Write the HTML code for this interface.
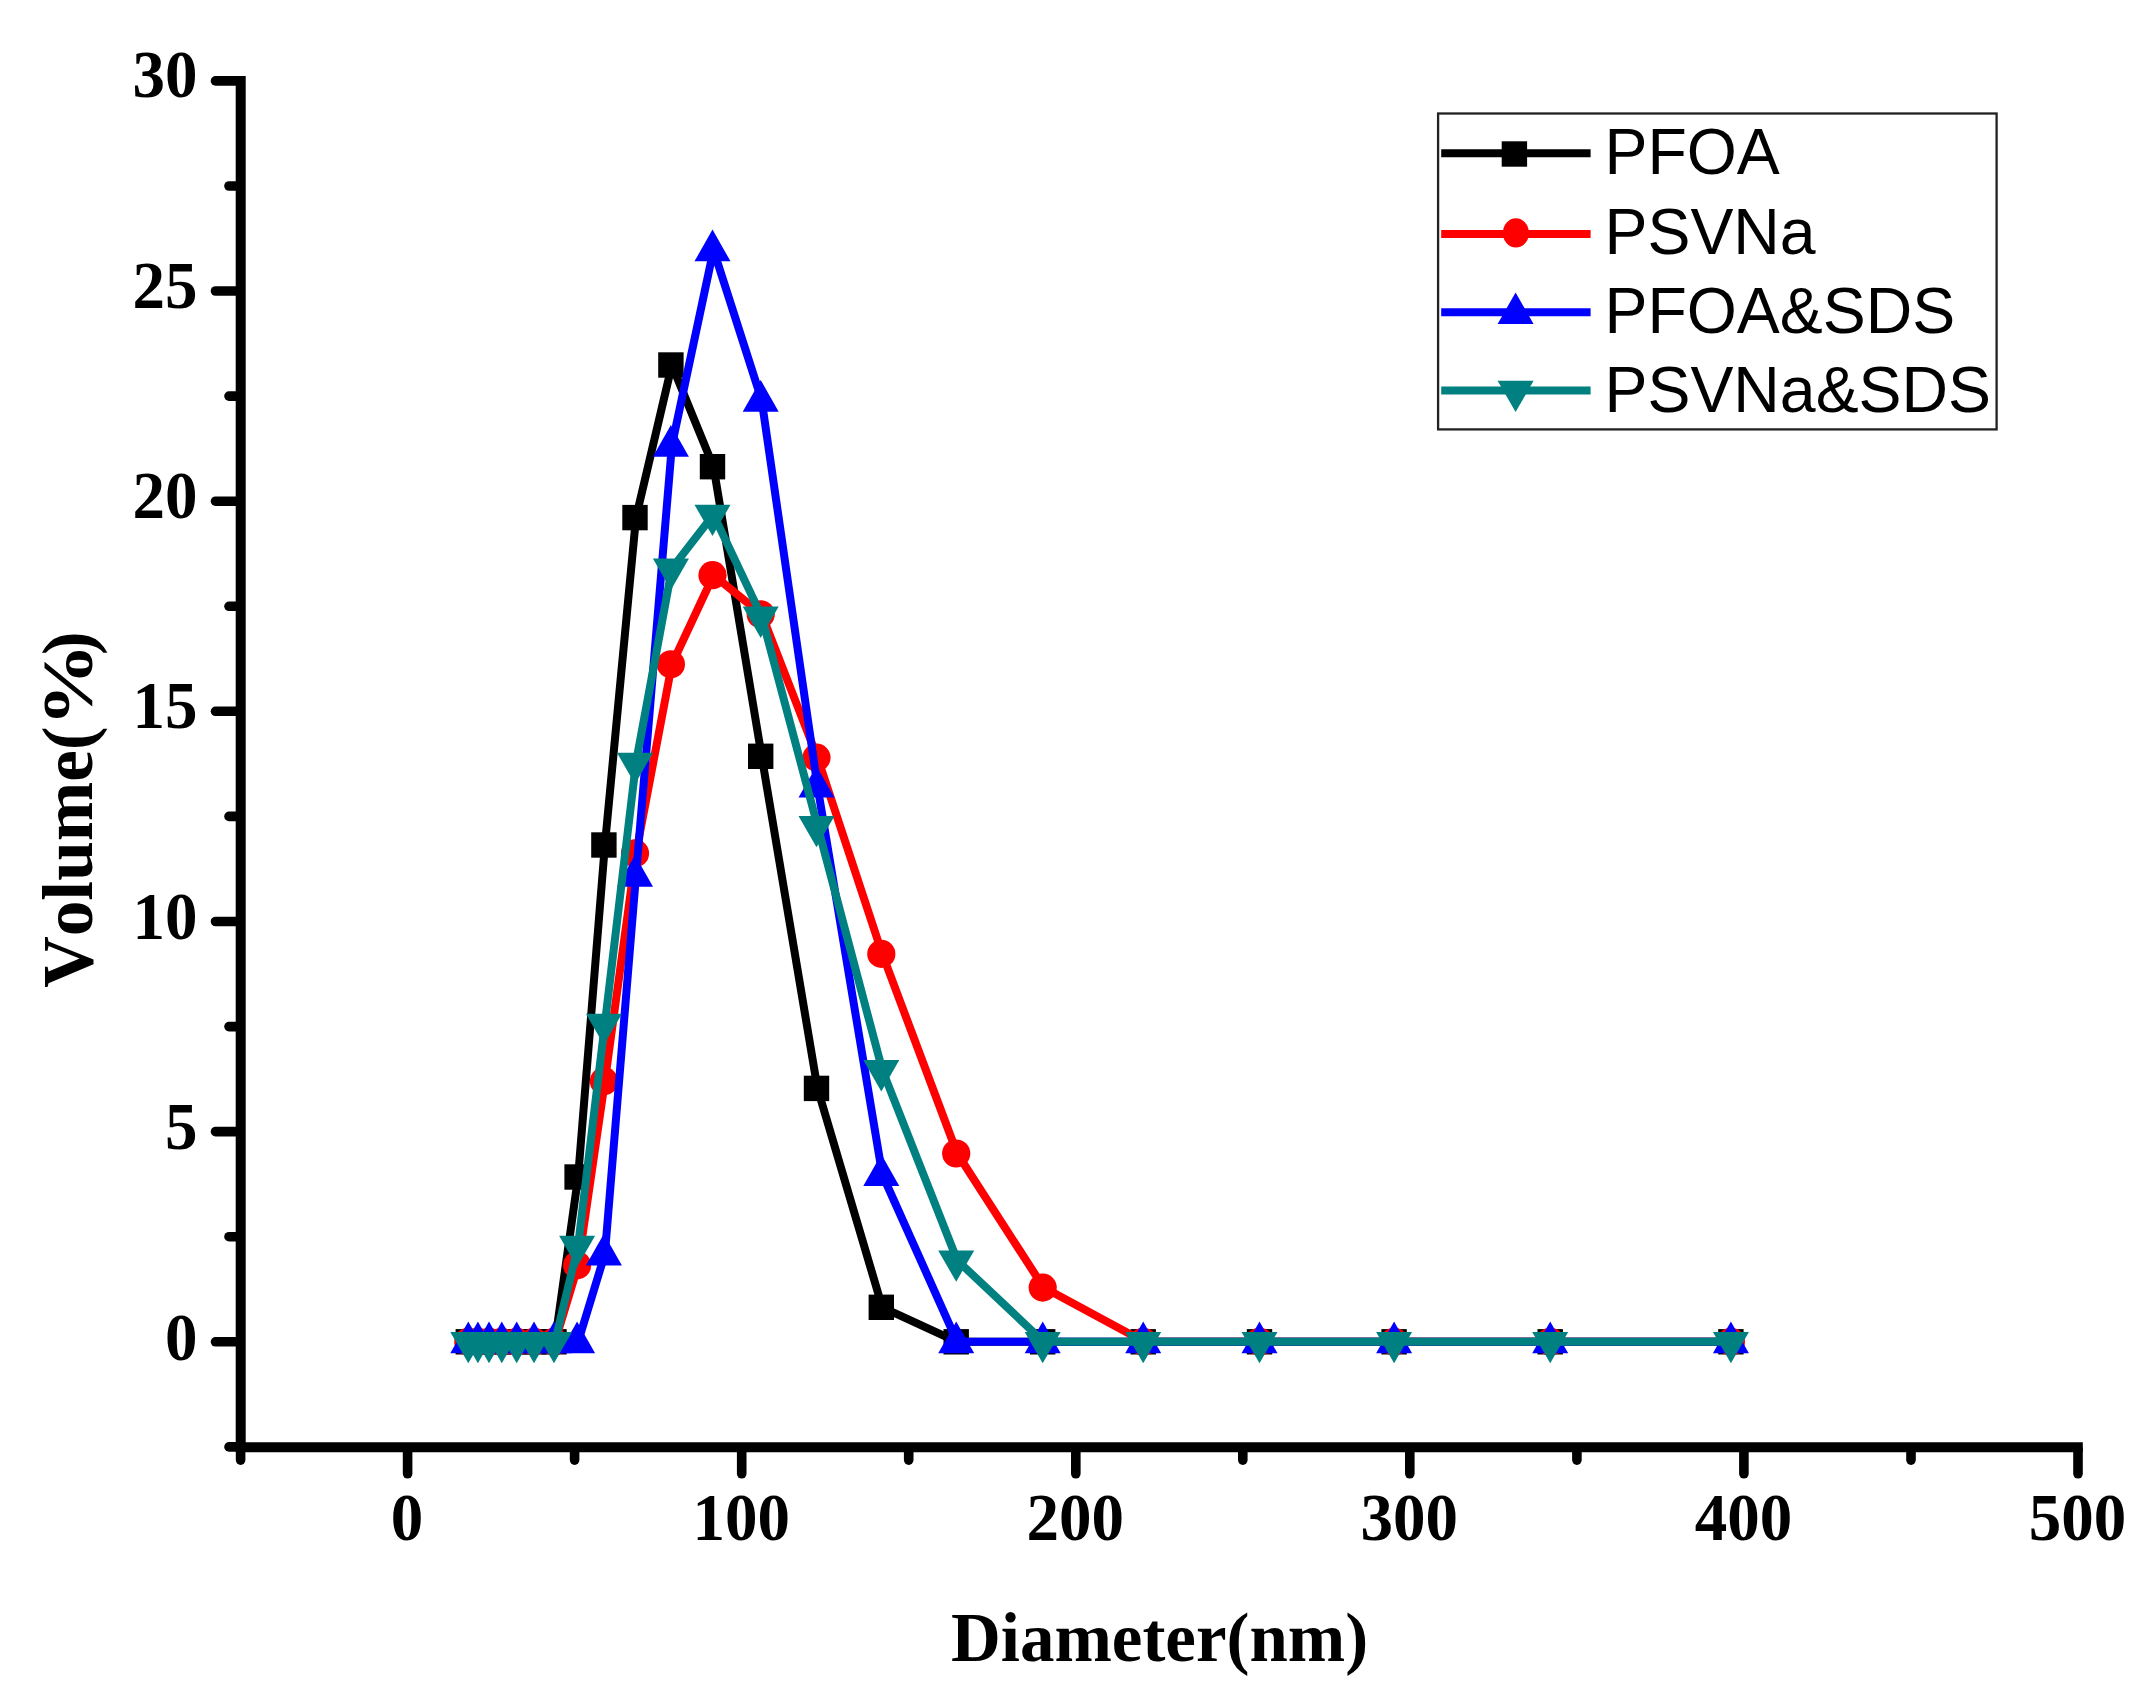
<!DOCTYPE html>
<html lang="en"><head><meta charset="utf-8"><title>Volume vs Diameter</title>
<style>
html,body{margin:0;padding:0;background:#fff;}
body{width:2155px;height:1703px;overflow:hidden;}
svg{display:block;}
text{font-kerning:none;}
.ser{font-family:"Liberation Serif",serif;font-weight:bold;fill:#000;}
.san{font-family:"Liberation Sans",sans-serif;fill:#000;}
</style></head><body>
<svg width="2155" height="1703" viewBox="0 0 2155 1703">
<rect width="2155" height="1703" fill="#fff"/>

<g stroke="#000" stroke-width="10" stroke-linecap="square" stroke-linejoin="miter" fill="none">
<path d="M240.7,81.1 V1447.2 H2077.8"/>
</g>
<g stroke="#000" stroke-width="9.6" stroke-linecap="round" fill="none">
<path d="M238.7,1446.9 h-9.7"/>
<path d="M238.7,1341.8 h-23.2"/>
<path d="M238.7,1236.7 h-9.7"/>
<path d="M238.7,1131.6 h-23.2"/>
<path d="M238.7,1026.6 h-9.7"/>
<path d="M238.7,921.5 h-23.2"/>
<path d="M238.7,816.4 h-9.7"/>
<path d="M238.7,711.3 h-23.2"/>
<path d="M238.7,606.3 h-9.7"/>
<path d="M238.7,501.2 h-23.2"/>
<path d="M238.7,396.1 h-9.7"/>
<path d="M238.7,291.0 h-23.2"/>
<path d="M238.7,186.0 h-9.7"/>
<path d="M238.7,80.9 h-23.2"/>
<path d="M240.6,1449.2 v10.9"/>
<path d="M407.6,1449.2 v24.6"/>
<path d="M574.6,1449.2 v10.9"/>
<path d="M741.7,1449.2 v24.6"/>
<path d="M908.7,1449.2 v10.9"/>
<path d="M1075.8,1449.2 v24.6"/>
<path d="M1242.8,1449.2 v10.9"/>
<path d="M1409.8,1449.2 v24.6"/>
<path d="M1576.9,1449.2 v10.9"/>
<path d="M1743.9,1449.2 v24.6"/>
<path d="M1911.0,1449.2 v10.9"/>
<path d="M2078.0,1449.2 v24.6"/>
</g>
<g class="ser" font-size="65">
<text transform="translate(197.6,1359.7) scale(1,1.055)" text-anchor="end">0</text>
<text transform="translate(197.6,1149.3) scale(1,1.055)" text-anchor="end">5</text>
<text transform="translate(197.6,938.8) scale(1,1.055)" text-anchor="end">10</text>
<text transform="translate(197.6,728.4) scale(1,1.055)" text-anchor="end">15</text>
<text transform="translate(197.6,518.0) scale(1,1.055)" text-anchor="end">20</text>
<text transform="translate(197.6,307.5) scale(1,1.055)" text-anchor="end">25</text>
<text transform="translate(197.6,97.1) scale(1,1.055)" text-anchor="end">30</text>
<text transform="translate(407.1,1539.9) scale(1,1.055)" text-anchor="middle">0</text>
<text transform="translate(741.2,1539.9) scale(1,1.055)" text-anchor="middle">100</text>
<text transform="translate(1075.3,1539.9) scale(1,1.055)" text-anchor="middle">200</text>
<text transform="translate(1409.3,1539.9) scale(1,1.055)" text-anchor="middle">300</text>
<text transform="translate(1743.4,1539.9) scale(1,1.055)" text-anchor="middle">400</text>
<text transform="translate(2077.5,1539.9) scale(1,1.055)" text-anchor="middle">500</text>
</g>
<text class="ser" font-size="68.9" x="1159.6" y="1660.8" text-anchor="middle">Diameter(nm)</text>
<g class="ser" font-size="71.3" transform="translate(91.8,809.6) rotate(-90)"><text x="-178.2" y="0">Volume(</text><text transform="translate(83.2,0) scale(1.17,1)">%</text><text x="154.5" y="0">)</text></g>
<g><polyline points="469.3,1341.8 478.9,1341.8 490.0,1341.8 502.8,1341.8 517.7,1341.8 535.0,1341.8 555.0,1341.8 578.1,1177.0 604.9,845.0 636.0,517.6 671.9,365.0 713.5,466.7 761.7,756.3 817.5,1088.4 882.3,1307.3 957.2,1341.8 1043.7,1341.8 1144.2,1341.8 1260.5,1341.8 1395.1,1341.8 1551.2,1341.8 1731.9,1341.8" fill="none" stroke="#000000" stroke-width="8" stroke-linejoin="round" stroke-linecap="round"/>
<rect x="455.6" y="1329.1" width="25.4" height="25.4" fill="#000000"/>
<rect x="465.2" y="1329.1" width="25.4" height="25.4" fill="#000000"/>
<rect x="476.3" y="1329.1" width="25.4" height="25.4" fill="#000000"/>
<rect x="489.1" y="1329.1" width="25.4" height="25.4" fill="#000000"/>
<rect x="504.0" y="1329.1" width="25.4" height="25.4" fill="#000000"/>
<rect x="521.3" y="1329.1" width="25.4" height="25.4" fill="#000000"/>
<rect x="541.3" y="1329.1" width="25.4" height="25.4" fill="#000000"/>
<rect x="564.4" y="1164.3" width="25.4" height="25.4" fill="#000000"/>
<rect x="591.2" y="832.3" width="25.4" height="25.4" fill="#000000"/>
<rect x="622.3" y="504.9" width="25.4" height="25.4" fill="#000000"/>
<rect x="658.2" y="352.3" width="25.4" height="25.4" fill="#000000"/>
<rect x="699.8" y="454.0" width="25.4" height="25.4" fill="#000000"/>
<rect x="748.0" y="743.6" width="25.4" height="25.4" fill="#000000"/>
<rect x="803.8" y="1075.7" width="25.4" height="25.4" fill="#000000"/>
<rect x="868.6" y="1294.6" width="25.4" height="25.4" fill="#000000"/>
<rect x="943.5" y="1329.1" width="25.4" height="25.4" fill="#000000"/>
<rect x="1030.0" y="1329.1" width="25.4" height="25.4" fill="#000000"/>
<rect x="1130.5" y="1329.1" width="25.4" height="25.4" fill="#000000"/>
<rect x="1246.8" y="1329.1" width="25.4" height="25.4" fill="#000000"/>
<rect x="1381.4" y="1329.1" width="25.4" height="25.4" fill="#000000"/>
<rect x="1537.5" y="1329.1" width="25.4" height="25.4" fill="#000000"/>
<rect x="1718.2" y="1329.1" width="25.4" height="25.4" fill="#000000"/>
</g>
<g><polyline points="469.3,1341.8 478.9,1341.8 490.0,1341.8 502.8,1341.8 517.7,1341.8 535.0,1341.8 555.0,1341.8 578.1,1265.3 604.9,1081.2 636.0,853.4 671.9,664.3 713.5,575.2 761.7,614.3 817.5,757.6 882.3,953.9 957.2,1153.5 1043.7,1287.6 1144.2,1341.8 1260.5,1341.8 1395.1,1341.8 1551.2,1341.8 1731.9,1341.8" fill="none" stroke="#ff0000" stroke-width="8" stroke-linejoin="round" stroke-linecap="round"/>
<circle cx="468.3" cy="1341.8" r="14.1" fill="#ff0000"/>
<circle cx="477.9" cy="1341.8" r="14.1" fill="#ff0000"/>
<circle cx="489.0" cy="1341.8" r="14.1" fill="#ff0000"/>
<circle cx="501.8" cy="1341.8" r="14.1" fill="#ff0000"/>
<circle cx="516.7" cy="1341.8" r="14.1" fill="#ff0000"/>
<circle cx="534.0" cy="1341.8" r="14.1" fill="#ff0000"/>
<circle cx="554.0" cy="1341.8" r="14.1" fill="#ff0000"/>
<circle cx="577.1" cy="1265.3" r="14.1" fill="#ff0000"/>
<circle cx="603.9" cy="1081.2" r="14.1" fill="#ff0000"/>
<circle cx="635.0" cy="853.4" r="14.1" fill="#ff0000"/>
<circle cx="670.9" cy="664.3" r="14.1" fill="#ff0000"/>
<circle cx="712.5" cy="575.2" r="14.1" fill="#ff0000"/>
<circle cx="760.7" cy="614.3" r="14.1" fill="#ff0000"/>
<circle cx="816.5" cy="757.6" r="14.1" fill="#ff0000"/>
<circle cx="881.3" cy="953.9" r="14.1" fill="#ff0000"/>
<circle cx="956.2" cy="1153.5" r="14.1" fill="#ff0000"/>
<circle cx="1042.7" cy="1287.6" r="14.1" fill="#ff0000"/>
<circle cx="1143.2" cy="1341.8" r="14.1" fill="#ff0000"/>
<circle cx="1259.5" cy="1341.8" r="14.1" fill="#ff0000"/>
<circle cx="1394.1" cy="1341.8" r="14.1" fill="#ff0000"/>
<circle cx="1550.2" cy="1341.8" r="14.1" fill="#ff0000"/>
<circle cx="1730.9" cy="1341.8" r="14.1" fill="#ff0000"/>
</g>
<g><polyline points="469.3,1341.8 478.9,1341.8 490.0,1341.8 502.8,1341.8 517.7,1341.8 535.0,1341.8 555.0,1341.8 578.1,1341.8 604.9,1254.0 636.0,875.3 671.9,445.3 713.5,249.9 761.7,400.3 817.5,786.2 882.3,1174.5 957.2,1341.8 1043.7,1341.8 1144.2,1341.8 1260.5,1341.8 1395.1,1341.8 1551.2,1341.8 1731.9,1341.8" fill="none" stroke="#0000ff" stroke-width="8" stroke-linejoin="round" stroke-linecap="round"/>
<polygon points="468.3,1321.5 450.3,1353.2 486.3,1353.2" fill="#0000ff"/>
<polygon points="477.9,1321.5 459.9,1353.2 495.9,1353.2" fill="#0000ff"/>
<polygon points="489.0,1321.5 471.0,1353.2 507.0,1353.2" fill="#0000ff"/>
<polygon points="501.8,1321.5 483.8,1353.2 519.8,1353.2" fill="#0000ff"/>
<polygon points="516.7,1321.5 498.7,1353.2 534.7,1353.2" fill="#0000ff"/>
<polygon points="534.0,1321.5 516.0,1353.2 552.0,1353.2" fill="#0000ff"/>
<polygon points="554.0,1321.5 536.0,1353.2 572.0,1353.2" fill="#0000ff"/>
<polygon points="577.1,1321.5 559.1,1353.2 595.1,1353.2" fill="#0000ff"/>
<polygon points="603.9,1233.7 585.9,1265.4 621.9,1265.4" fill="#0000ff"/>
<polygon points="635.0,855.0 617.0,886.7 653.0,886.7" fill="#0000ff"/>
<polygon points="670.9,425.0 652.9,456.7 688.9,456.7" fill="#0000ff"/>
<polygon points="712.5,229.6 694.5,261.3 730.5,261.3" fill="#0000ff"/>
<polygon points="760.7,380.0 742.7,411.7 778.7,411.7" fill="#0000ff"/>
<polygon points="816.5,765.9 798.5,797.6 834.5,797.6" fill="#0000ff"/>
<polygon points="881.3,1154.2 863.3,1185.9 899.3,1185.9" fill="#0000ff"/>
<polygon points="956.2,1321.5 938.2,1353.2 974.2,1353.2" fill="#0000ff"/>
<polygon points="1042.7,1321.5 1024.7,1353.2 1060.7,1353.2" fill="#0000ff"/>
<polygon points="1143.2,1321.5 1125.2,1353.2 1161.2,1353.2" fill="#0000ff"/>
<polygon points="1259.5,1321.5 1241.5,1353.2 1277.5,1353.2" fill="#0000ff"/>
<polygon points="1394.1,1321.5 1376.1,1353.2 1412.1,1353.2" fill="#0000ff"/>
<polygon points="1550.2,1321.5 1532.2,1353.2 1568.2,1353.2" fill="#0000ff"/>
<polygon points="1730.9,1321.5 1712.9,1353.2 1748.9,1353.2" fill="#0000ff"/>
</g>
<g><polyline points="469.3,1341.8 478.9,1341.8 490.0,1341.8 502.8,1341.8 517.7,1341.8 535.0,1341.8 555.0,1341.8 578.1,1245.6 604.9,1023.6 636.0,762.6 671.9,568.4 713.5,514.6 761.7,616.4 817.5,825.7 882.3,1069.9 957.2,1260.3 1043.7,1341.8 1144.2,1341.8 1260.5,1341.8 1395.1,1341.8 1551.2,1341.8 1731.9,1341.8" fill="none" stroke="#008080" stroke-width="8" stroke-linejoin="round" stroke-linecap="round"/>
<polygon points="468.3,1363.3 450.3,1332.0 486.3,1332.0" fill="#008080"/>
<polygon points="477.9,1363.3 459.9,1332.0 495.9,1332.0" fill="#008080"/>
<polygon points="489.0,1363.3 471.0,1332.0 507.0,1332.0" fill="#008080"/>
<polygon points="501.8,1363.3 483.8,1332.0 519.8,1332.0" fill="#008080"/>
<polygon points="516.7,1363.3 498.7,1332.0 534.7,1332.0" fill="#008080"/>
<polygon points="534.0,1363.3 516.0,1332.0 552.0,1332.0" fill="#008080"/>
<polygon points="554.0,1363.3 536.0,1332.0 572.0,1332.0" fill="#008080"/>
<polygon points="577.1,1267.1 559.1,1235.8 595.1,1235.8" fill="#008080"/>
<polygon points="603.9,1045.1 585.9,1013.8 621.9,1013.8" fill="#008080"/>
<polygon points="635.0,784.1 617.0,752.8 653.0,752.8" fill="#008080"/>
<polygon points="670.9,589.9 652.9,558.6 688.9,558.6" fill="#008080"/>
<polygon points="712.5,536.1 694.5,504.8 730.5,504.8" fill="#008080"/>
<polygon points="760.7,637.9 742.7,606.6 778.7,606.6" fill="#008080"/>
<polygon points="816.5,847.2 798.5,815.9 834.5,815.9" fill="#008080"/>
<polygon points="881.3,1091.4 863.3,1060.1 899.3,1060.1" fill="#008080"/>
<polygon points="956.2,1281.8 938.2,1250.5 974.2,1250.5" fill="#008080"/>
<polygon points="1042.7,1363.3 1024.7,1332.0 1060.7,1332.0" fill="#008080"/>
<polygon points="1143.2,1363.3 1125.2,1332.0 1161.2,1332.0" fill="#008080"/>
<polygon points="1259.5,1363.3 1241.5,1332.0 1277.5,1332.0" fill="#008080"/>
<polygon points="1394.1,1363.3 1376.1,1332.0 1412.1,1332.0" fill="#008080"/>
<polygon points="1550.2,1363.3 1532.2,1332.0 1568.2,1332.0" fill="#008080"/>
<polygon points="1730.9,1363.3 1712.9,1332.0 1748.9,1332.0" fill="#008080"/>
</g>
<rect x="1438.1" y="113.5" width="558.5" height="315.9" fill="#fff" stroke="#222" stroke-width="2.3"/>
<line x1="1441.2" y1="153.2" x2="1590.6" y2="153.2" stroke="#000000" stroke-width="8"/>
<rect x="1501.7" y="141.3" width="25.4" height="25.4" fill="#000000"/>
<text class="san" font-size="64.4" x="1604.5" y="174.0">PFOA</text>
<line x1="1441.2" y1="233.9" x2="1590.6" y2="233.9" stroke="#ff0000" stroke-width="8"/>
<ellipse cx="1515.9" cy="232.9" rx="13.0" ry="14.7" fill="#ff0000"/>
<text class="san" font-size="64.4" x="1604.5" y="254.2">PSVNa</text>
<line x1="1441.2" y1="312.3" x2="1590.6" y2="312.3" stroke="#0000ff" stroke-width="8"/>
<polygon points="1515.6,292.4 1497.6,324.1 1533.6,324.1" fill="#0000ff"/>
<text class="san" font-size="64.4" x="1604.5" y="332.8">PFOA&amp;SDS</text>
<line x1="1441.2" y1="390.4" x2="1590.6" y2="390.4" stroke="#008080" stroke-width="8"/>
<polygon points="1515.6,412.1 1497.6,380.8 1533.6,380.8" fill="#008080"/>
<text class="san" font-size="64.4" x="1604.5" y="412.0">PSVNa&amp;SDS</text>
</svg></body></html>
